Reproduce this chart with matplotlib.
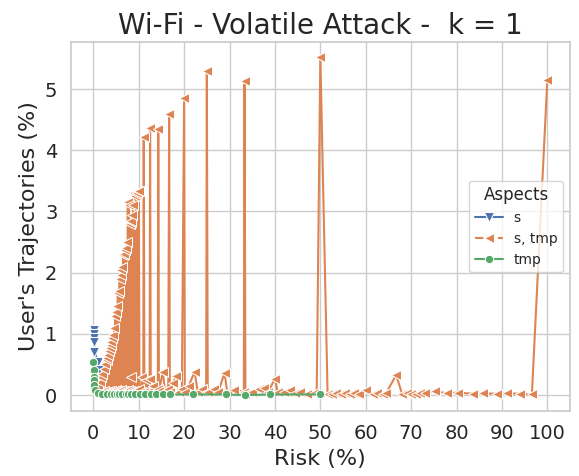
import numpy as np
import matplotlib
matplotlib.use("Agg")
import matplotlib.pyplot as plt
import seaborn as sns

# series "s"
s_risk = [0.15, 0.18, 0.2, 0.22, 0.25, 1.0, 1.3]
s_users = [1.06, 0.99, 0.93, 0.87, 0.71, 0.54, 0.41]

# series "s, tmp"
stmp_risk = [0.3, 0.6, 0.9, 1.1, 1.25, 1.4, 1.55, 1.7, 1.85, 2.0, 2.15, 2.3,
             2.45, 2.6, 2.75, 2.9,
             3.0, 3.1, 3.2, 3.3, 3.4, 3.5, 3.6, 3.7, 3.8, 3.9,
             4.0, 4.1, 4.2, 4.3, 4.4, 4.5, 4.6, 4.7, 4.8, 4.9,
             5.0, 5.1, 5.2, 5.3, 5.4, 5.5, 5.6, 5.7, 5.8, 5.9,
             6.0, 6.1, 6.2, 6.3, 6.4, 6.5, 6.6, 6.7, 6.8, 6.9,
             7.0, 7.1, 7.2, 7.3, 7.4, 7.5, 7.6, 7.7, 7.8, 7.9,
             8.0, 8.1, 8.2, 8.3, 8.4, 8.5, 8.6, 8.7, 8.8, 8.9,
             9.0, 9.1, 9.2, 9.3, 9.4, 9.5, 9.6, 9.7, 9.8, 9.9,
             10.0, 10.15, 10.5, 10.8, 11.0, 11.1, 11.25, 11.6,
             12.0, 12.4, 12.5, 12.65, 13.2, 13.6, 14.2, 14.3, 14.45, 15.3,
             15.8, 16.5, 16.7, 16.85, 17.5, 18.3, 18.8, 19.5, 20.0, 20.15,
             21.0, 22.3, 23.0, 24.0, 24.85, 25.0, 25.2, 26.5, 27.5, 28.9,
             29.5, 31.0, 33.15, 33.3, 33.5, 35.0, 36.5, 37.7, 38.5, 40.0,
             40.6, 42.0, 43.3, 44.4, 45.5, 47.0, 48.5, 49.2, 50.0, 51.6, 52.5,
             53.5, 54.5, 55.5, 56.5, 57.5, 58.5, 60.0, 61.5, 62.5, 63.7, 64.5,
             66.7, 68.0, 69.0, 70.0, 71.0, 72.0, 73.1, 75.3, 77.9, 80.4, 83.7,
             85.9, 88.9, 91.1, 94.0, 96.6, 100.0]
stmp_users = [0.03, 0.08, 0.05, 0.15, 0.02, 0.22, 0.03, 0.30, 0.05, 0.35,
              0.04, 0.42, 0.06, 0.50, 0.05, 0.58,
              0.60, 0.05, 0.66, 0.04, 0.72, 0.06, 0.77, 0.03, 0.82, 0.07,
              0.87, 0.05, 0.93, 0.04, 0.98, 0.06, 1.10, 0.05, 1.30, 0.08,
              1.36, 0.04, 1.45, 0.06, 1.66, 0.05, 1.70, 0.07, 1.90, 0.05,
              1.96, 0.08, 2.04, 0.04, 2.10, 0.06, 2.29, 0.05, 2.30, 0.07,
              2.37, 0.05, 2.40, 0.06, 2.50, 0.04, 3.16, 0.08, 3.10, 0.05,
              2.80, 0.06, 2.83, 0.30, 2.85, 0.05, 2.95, 0.07, 3.10, 0.05,
              3.31, 0.06, 3.25, 0.05, 3.28, 0.07, 3.30, 0.05, 3.33, 0.06,
              3.33, 0.10, 0.05, 0.30, 0.02, 4.21, 0.05, 0.25,
              0.05, 0.27, 4.37, 0.04, 0.15, 0.05, 0.10, 4.34, 0.06, 0.38,
              0.05, 0.10, 4.60, 0.05, 0.20, 0.31, 0.05, 0.10, 4.86, 0.05,
              0.15, 0.38, 0.05, 0.10, 0.05, 5.30, 0.05, 0.10, 0.05, 0.36,
              0.05, 0.08, 0.05, 5.14, 0.02, 0.05, 0.10, 0.11, 0.05, 0.27,
              0.05, 0.05, 0.08, 0.03, 0.05, 0.02, 0.03, 0.02, 5.53, 0.02,
              0.02, 0.03, 0.02, 0.03, 0.01, 0.03, 0.02, 0.08, 0.02, 0.04,
              0.01, 0.03, 0.33, 0.02, 0.03, 0.01, 0.02, 0.04, 0.04, 0.06,
              0.03, 0.04, 0.02, 0.03, 0.02, 0.03, 0.02, 0.01, 5.15]

# series "tmp"
tmp_risk = [0.0, 0.05, 0.1, 0.15, 0.2, 0.4, 1.0, 2.0, 3.0, 4.0, 4.6, 5.2,
            5.7, 6.3, 7.2, 7.7, 8.3, 9.1, 10.2, 11.3, 12.7, 13.8, 15.3, 16.8,
            21.9, 29.3, 33.4, 38.9, 50.0]
tmp_users = [0.54, 0.41, 0.30, 0.25, 0.16, 0.08, 0.04, 0.02, 0.01, 0.01,
             0.02, 0.01, 0.01, 0.02, 0.01, 0.01, 0.01, 0.01, 0.01, 0.01,
             0.01, 0.01, 0.01, 0.01, 0.01, 0.01, 0.0, 0.01, 0.01]

sns.set_theme(style="whitegrid")
pal = sns.color_palette("deep")

fig, ax = plt.subplots(figsize=(5.79, 4.76), dpi=100)
fig.subplots_adjust(left=0.122, right=0.9845, top=0.9118, bottom=0.1366)

mk = dict(markeredgecolor="white", markeredgewidth=0.75, lw=1.5)
ax.plot(s_risk, s_users, color=pal[0], marker="v", markersize=7,
        label="s", **mk)
ax.plot(stmp_risk, stmp_users, color=pal[1], marker="<", markersize=7,
        label="s, tmp", **mk)
ax.plot(tmp_risk, tmp_users, color=pal[2], marker="o", markersize=6,
        label="tmp", **mk)

ax.set_xlim(-5, 105)
ax.set_ylim(-0.26, 5.77)
ax.set_xticks(np.arange(0, 101, 10))
ax.set_yticks(np.arange(0, 6, 1))
ax.tick_params(labelsize=14)
ax.set_xlabel("Risk (%)", fontsize=16)
ax.set_ylabel("User's Trajectories (%)", fontsize=16)
ax.set_title("Wi-Fi - Volatile Attack -  k = 1", fontsize=20)

leg = ax.legend(title="Aspects", loc="center right", fontsize=10,
                title_fontsize=12)
# legend shows the dashed style of the "s, tmp" series
leg.get_lines()[1].set_dashes((4, 1.5))

fig.savefig("out.png", dpi=100)
